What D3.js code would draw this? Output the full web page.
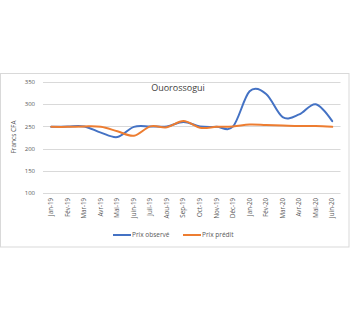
<!DOCTYPE html>
<html><head><meta charset="utf-8">
<script src="https://cdn.jsdelivr.net/npm/d3@7"></script>
<style>body{margin:0;background:#fff}svg{display:block}</style>
</head><body>
<script>
const months = ["Jan-19","Fév-19","Mar-19","Avr-19","Mai-19","Juin-19","Juil-19","Aou-19","Sep-19","Oct-19","Nov-19","Déc-19","Jan-20","Fév-20","Mar-20","Avr-20","Mai-20","Juin-20"];
const observe = [249,250,250,236,226,249,250,250,260,250,249,250,329,323,271,277,300,262];
const predit  = [249,249,250,249,239,229,250,248,262,247,249,250,254,253,252,251,251,249];
const yTicks = [100,150,200,250,300,350];
const seriesNames = ["Prix observé","Prix prédit"];
const colors = ["#4472C4","#ED7D31"];

const W=350,H=322;
const svg=d3.select("body").append("svg").attr("width",W).attr("height",H);
const font="'Open Sans', 'Liberation Sans', sans-serif";

svg.append("rect").attr("x",0.5).attr("y",73.5).attr("width",348.5).attr("height",173.5)
  .attr("fill","#fff").attr("stroke","#d9d9d9").attr("stroke-width",1);

const x=d3.scaleBand().domain(months).range([43,340.5]);
const y=d3.scaleLinear().domain([100,350]).range([193,82]);

const g=svg.append("g");
g.selectAll("line.grid").data(yTicks).join("line").attr("class","grid")
  .attr("x1",43).attr("x2",340.5).attr("y1",d=>Math.round(y(d))+0.5).attr("y2",d=>Math.round(y(d))+0.5)
  .attr("stroke","#d9d9d9").attr("stroke-width",1);

g.selectAll("text.yt").data(yTicks).join("text").attr("class","yt")
  .attr("x",35).attr("y",d=>y(d)).attr("dy","0.35em").attr("text-anchor","end")
  .attr("font-family",font).attr("font-size",6).attr("fill","#595959").text(d=>d);

g.selectAll("text.xt").data(months).join("text").attr("class","xt")
  .attr("transform",d=>`translate(${x(d)+x.bandwidth()/2+2},198) rotate(-90)`)
  .attr("text-anchor","end").attr("font-family",font).attr("font-size",6.2).attr("fill","#595959").text(d=>d);

svg.append("text").attr("transform",`translate(16,137) rotate(-90)`).attr("text-anchor","middle")
  .attr("font-family",font).attr("font-size",6.5).attr("fill","#595959").text("Francs CFA");

svg.append("text").attr("x",178).attr("y",91).attr("text-anchor","middle")
  .attr("font-family",font).attr("font-size",9).attr("fill","#404040").text("Ouorossogui");

const line=d3.line().x((d,i)=>x(months[i])+x.bandwidth()/2).y(d=>y(d)).curve(d3.curveCardinal.tension(0));
[observe,predit].forEach((s,k)=>{
  svg.append("path").datum(s).attr("d",line).attr("fill","none").attr("stroke",colors[k])
    .attr("stroke-width",2).attr("stroke-linecap","round");
});

const leg=[{x:113,t:seriesNames[0]},{x:183,t:seriesNames[1]}];
leg.forEach((l,k)=>{
  svg.append("line").attr("x1",l.x).attr("x2",l.x+18).attr("y1",235).attr("y2",235)
    .attr("stroke",colors[k]).attr("stroke-width",2);
  svg.append("text").attr("x",l.x+19).attr("y",235).attr("dy","0.35em")
    .attr("font-family",font).attr("font-size",6.5).attr("fill","#595959").text(l.t);
});
</script>
</body></html>
